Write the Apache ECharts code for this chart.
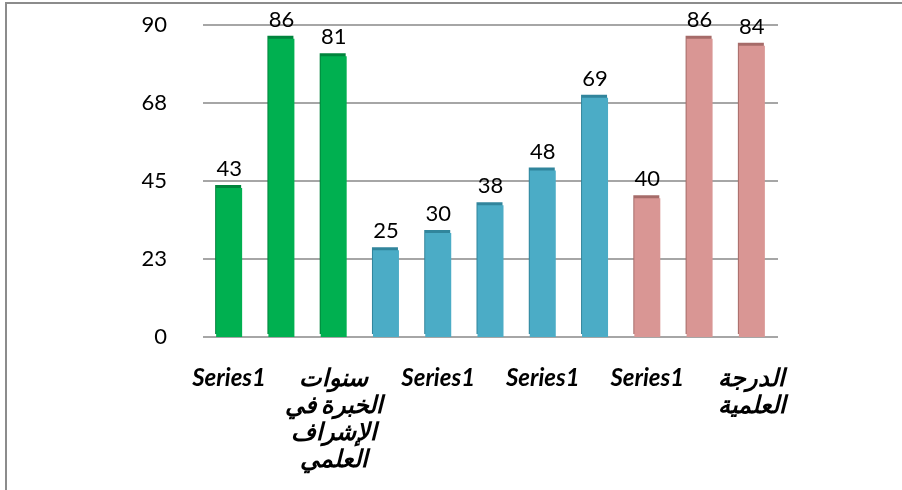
<!DOCTYPE html>
<html>
<head>
<meta charset="utf-8">
<script src="https://cdn.jsdelivr.net/npm/echarts@6/dist/echarts.min.js"></script>
<style>
  html, body { margin: 0; padding: 0; background: #fff; }
  #frame {
    position: absolute; left: 5px; top: 2px; width: 897px; height: 488px;
    border-left: 2px solid #8c8c8c; border-top: 2px solid #8c8c8c;
  }
  #main { position: absolute; left: 0; top: 0; width: 902px; height: 490px; }
</style>
</head>
<body>
<div id="frame"></div>
<div id="main"></div>
<script>
const categories = [
  'Series1', 'Series1', 'سنوات\nالخبرة في\nالإشراف\nالعلمي', 'Series1',
  'Series1', 'Series1', 'Series1', 'Series1', 'Series1', 'Series1',
  'الدرجة\nالعلمية'
]
const values = [43, 86, 81, 25, 30, 38, 48, 69, 40, 86, 84]
const groups = ['green', 'green', 'green', 'blue', 'blue', 'blue', 'blue', 'blue', 'pink', 'pink', 'pink']
const yTicks = [0, 22.5, 45, 67.5, 90]

const palette = {
  green: { fill: '#00b050', top: '#00843c' },
  blue: { fill: '#4bacc6', top: '#31859c' },
  pink: { fill: '#d99694', top: '#a66b69' },
}

const barData = values.map((v, i) => ({
  value: v,
  itemStyle: {
    color: palette[groups[i]].fill,
    shadowColor: palette[groups[i]].top,
    shadowBlur: 0,
    shadowOffsetX: -1,
    shadowOffsetY: -3,
  },
}))

const chart = echarts.init(document.getElementById('main'))
chart.setOption({
  animation: false,
  grid: { left: 203, right: 124, top: 25, bottom: 153 },
  xAxis: {
    type: 'category',
    data: categories,
    axisLine: { show: false },
    axisTick: { show: false },
    axisLabel: {
      interval: 1,
      margin: 28,
      color: '#000',
      fontSize: 24,
      fontWeight: 'bold',
      fontStyle: 'italic',
      fontFamily: 'Lato, "DejaVu Sans", sans-serif',
      lineHeight: 27,
      align: 'center',
    },
  },
  yAxis: {
    type: 'value',
    min: yTicks[0],
    max: yTicks[yTicks.length - 1],
    interval: yTicks[1] - yTicks[0],
    axisLine: { show: false },
    axisTick: { show: false },
    splitLine: { lineStyle: { color: '#a6a6a6', width: 2 } },
    axisLabel: {
      margin: 36,
      color: '#000',
      fontSize: 22,
      fontFamily: 'Lato, sans-serif',
      formatter: (v) => String(Math.round(v)),
    },
  },
  series: [
    {
      type: 'bar',
      data: barData,
      barWidth: 26,
      label: {
        show: true,
        position: 'top',
        distance: 8,
        color: '#000',
        fontSize: 22,
        fontFamily: 'Lato, sans-serif',
      },
    },
  ],
})
</script>
</body>
</html>
